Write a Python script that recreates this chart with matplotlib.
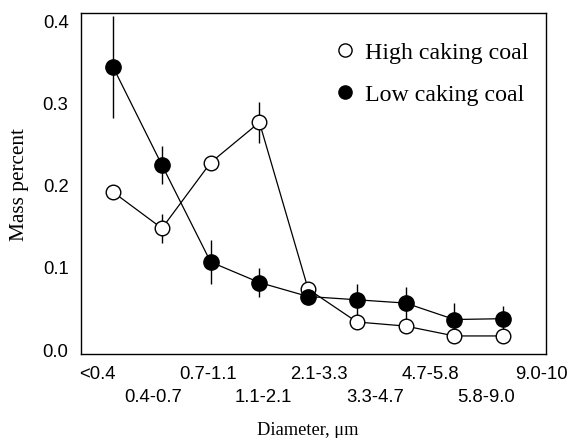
import matplotlib
matplotlib.use("Agg")
import matplotlib.pyplot as plt
from matplotlib.lines import Line2D
import numpy as np

# Size bins (lower-pressure impactor stages)
size_bins = ["<0.4", "0.4-0.7", "0.7-1.1", "1.1-2.1", "2.1-3.3",
             "3.3-4.7", "4.7-5.8", "5.8-9.0", "9.0-10"]

high_caking = [0.191, 0.147, 0.227, 0.276, 0.073, 0.033, 0.028, 0.016, 0.016]
high_err = [0.0, 0.018, 0.0, 0.025, 0.0, 0.0, 0.0, 0.0, 0.0]

low_caking = [0.343, 0.224, 0.106, 0.081, 0.064, 0.060, 0.056, 0.036, 0.037]
low_err = [0.062, 0.023, 0.027, 0.018, 0.006, 0.019, 0.019, 0.020, 0.015]

serif = ["Liberation Serif", "DejaVu Serif"]
sans = ["Liberation Sans", "DejaVu Sans"]

fig = plt.figure(figsize=(5.69, 4.39), dpi=100)
ax = fig.add_axes([0.1424, 0.1913, 0.8172, 0.7767])

x = np.arange(len(size_bins))

ax.errorbar(x, low_caking, yerr=low_err, fmt="none", ecolor="black",
            elinewidth=1.0, capsize=0, zorder=2)
ax.errorbar(x, high_caking, yerr=high_err, fmt="none", ecolor="black",
            elinewidth=1.0, capsize=0, zorder=2)
ax.plot(x, high_caking, color="black", lw=0.9, marker="o", ms=10.5,
        mfc="white", mec="black", mew=1.0, zorder=3)
ax.plot(x, low_caking, color="black", lw=0.9, marker="o", ms=11,
        mfc="black", mec="black", mew=1.0, zorder=4)

ax.set_xlim(-0.66, 8.88)
ax.set_ylim(-0.006, 0.409)

# Category labels sit on their own staggered grid below the axis
label_pos = -0.33 + 1.14 * np.arange(len(size_bins))
ax.set_xticks(label_pos)
ax.set_xticklabels([s if i % 2 == 0 else "\n" + s for i, s in enumerate(size_bins)],
                   family=sans, fontsize=13.3, linespacing=1.45)
ax.tick_params(axis="x", length=0, pad=8)

ax.set_yticks([0.0, 0.1, 0.2, 0.3, 0.4])
ax.set_yticklabels(["0.0", "0.1", "0.2", "0.3", "0.4"], family=sans, fontsize=13.3)
ax.tick_params(axis="y", length=0, pad=9)

for sp in ax.spines.values():
    sp.set_linewidth(1.0)

fig.text(308 / 569, 1 - 435 / 439, "Diameter, \u03bcm", family=serif,
         fontsize=13.2, ha="center", va="baseline")
ax.set_ylabel("Mass percent", family=serif, fontsize=15.3, labelpad=10)

handles = [
    Line2D([], [], ls="none", marker="o", ms=9.5, mfc="white", mec="black", mew=1.0),
    Line2D([], [], ls="none", marker="o", ms=9.5, mfc="black", mec="black", mew=1.0),
]
ax.legend(handles, ["High caking coal", "Low caking coal"], loc="upper left",
          bbox_to_anchor=(0.527, 0.945), frameon=False,
          prop={"family": serif, "size": 17.2}, handlelength=0.8,
          handletextpad=0.45, labelspacing=0.85, borderaxespad=0)

fig.savefig("out.png", dpi=100)
